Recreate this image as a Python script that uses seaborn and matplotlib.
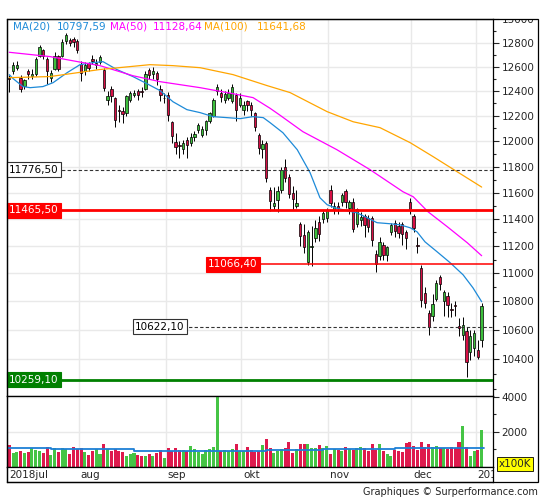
import numpy as np
import pandas as pd
import matplotlib
matplotlib.use('Agg')
import matplotlib.pyplot as plt
import matplotlib.transforms as mtransforms
from matplotlib.patches import Rectangle
from matplotlib.ticker import FixedLocator, FixedFormatter, NullFormatter
import seaborn as sns

sns.set_style('white')
plt.rcParams['font.family'] = ['DejaVu Sans']
plt.rcParams['font.size'] = 7.5

# ---- daily candles, 6 jul 2018 .. 4 jan 2019 (one entry per trading day) ----
opens = [12510, 12560, 12590, 12510, 12440, 12560, 12520, 12540, 12690, 12740,
         12660, 12510, 12580, 12690, 12690, 12810, 12820, 12830, 12810, 12620,
         12560, 12630, 12660, 12610, 12640, 12570, 12330, 12420, 12340, 12250,
         12240, 12220, 12330, 12370, 12400, 12400, 12420, 12570, 12540, 12550,
         12420, 12340, 12370, 12150, 11990, 11965, 11940, 12010, 11985, 12030,
         12090, 12045, 12090, 12160, 12200, 12400, 12385, 12330, 12345, 12320,
         12365, 12290, 12250, 12320, 12290, 12220, 12050, 11940, 11980, 11620,
         11500, 11540, 11620, 11800, 11720, 11600, 11500, 11360, 11280, 11080,
         11190, 11260, 11380, 11400, 11410, 11620, 11470, 11500, 11525, 11610,
         11480, 11530, 11360, 11390, 11420, 11410, 11410, 11140, 11130, 11205,
         11135, 11300, 11370, 11350, 11360, 11300, 11525, 11420, 11210, 11040,
         10860, 10720, 10700, 10820, 10975, 10800, 10840, 10745, 10775, 10630,
         10565, 10590, 10450, 10475, 10460, 10527]
highs = [12530, 12640, 12650, 12530, 12500, 12580, 12580, 12680, 12780, 12750,
         12680, 12570, 12720, 12700, 12830, 12880, 12840, 12850, 12830, 12650,
         12640, 12640, 12700, 12660, 12700, 12590, 12400, 12440, 12350, 12290,
         12270, 12370, 12400, 12410, 12420, 12430, 12560, 12590, 12600, 12560,
         12450, 12380, 12390, 12160, 12060, 12000, 12010, 12030, 12060, 12080,
         12140, 12120, 12170, 12230, 12340, 12460, 12420, 12400, 12420, 12460,
         12380, 12380, 12320, 12330, 12310, 12230, 12060, 12010, 12000, 11640,
         11640, 11650, 11800, 11860, 11740, 11650, 11620, 11380, 11360, 11320,
         11350, 11390, 11420, 11460, 11480, 11660, 11530, 11530, 11600, 11630,
         11540, 11560, 11480, 11450, 11440, 11430, 11420, 11170, 11270, 11230,
         11200, 11370, 11390, 11380, 11380, 11320, 11560, 11440, 11270, 11060,
         10900, 10740, 10850, 10950, 10990, 10880, 10870, 10790, 10800, 10680,
         10690, 10620, 10600, 10600, 10530, 10790]
lows = [12390, 12540, 12570, 12390, 12420, 12500, 12500, 12520, 12680, 12660,
        12460, 12470, 12570, 12560, 12680, 12790, 12770, 12760, 12710, 12480,
        12530, 12560, 12620, 12580, 12620, 12400, 12290, 12310, 12110, 12150,
        12140, 12200, 12310, 12350, 12330, 12350, 12410, 12500, 12500, 12450,
        12320, 12300, 12160, 11980, 11900, 11870, 11900, 11865, 11960, 12000,
        12060, 12030, 12050, 12140, 12190, 12370, 12310, 12300, 12330, 12300,
        12160, 12270, 12210, 12240, 12200, 12080, 11900, 11870, 11680, 11460,
        11470, 11450, 11600, 11680, 11560, 11470, 11480, 11200, 11150, 11060,
        11051, 11230, 11240, 11370, 11380, 11490, 11440, 11440, 11500, 11480,
        11440, 11300, 11340, 11350, 11270, 11300, 11200, 11010, 11100, 11100,
        11090, 11280, 11270, 11260, 11210, 11180, 11440, 11300, 11150, 10760,
        10755, 10565, 10660, 10800, 10880, 10700, 10690, 10690, 10700, 10560,
        10530, 10279, 10390, 10420, 10400, 10480]
closes = [12497, 12610, 12610, 12417, 12492, 12541, 12539, 12662, 12766, 12686,
          12561, 12548, 12689, 12579, 12809, 12860, 12798, 12805, 12737, 12546,
          12616, 12588, 12648, 12634, 12676, 12424, 12358, 12358, 12163, 12237,
          12211, 12358, 12384, 12385, 12365, 12394, 12538, 12528, 12562, 12494,
          12364, 12346, 12210, 12040, 11955, 11960, 11987, 11970, 12032, 12056,
          12124, 12096, 12158, 12219, 12327, 12431, 12350, 12374, 12385, 12435,
          12247, 12346, 12287, 12287, 12244, 12111, 11947, 11977, 11712, 11539,
          11524, 11614, 11777, 11715, 11589, 11553, 11524, 11274, 11191, 11307,
          11201, 11335, 11287, 11447, 11468, 11519, 11495, 11484, 11579, 11527,
          11529, 11325, 11472, 11412, 11353, 11341, 11244, 11066, 11230, 11136,
          11192, 11354, 11310, 11299, 11290, 11257, 11465, 11335, 11200, 10811,
          10788, 10622, 10780, 10931, 10924, 10865, 10772, 10740, 10766, 10611,
          10634, 10382, 10559, 10580, 10416, 10768]
# volume in units of 100K
volume = [1270, 810, 865, 920, 810, 865, 1075, 980, 920, 810,
          1150, 690, 1095, 865, 1095, 1020, 750, 1150, 1040, 1095,
          865, 690, 920, 1055, 750, 1325, 1055, 920, 1030, 920,
          880, 640, 750, 800, 690, 640, 600, 750, 640, 800,
          950, 540, 1065, 920, 1065, 950, 970, 920, 1200, 1010,
          880, 750, 970, 1030, 1140, 3990, 920, 950, 920, 1030,
          1310, 920, 920, 1140, 970, 880, 920, 1250, 1590, 1085,
          800, 920, 1030, 1085, 1420, 800, 1030, 1310, 1310, 1310,
          1085, 1085, 1250, 1085, 1200, 750, 1030, 970, 920, 1140,
          1000, 970, 1085, 1140, 1085, 920, 1310, 970, 1310, 920,
          750, 640, 970, 920, 860, 1365, 1420, 1200, 970, 1420,
          1140, 1310, 1140, 1200, 1085, 1085, 1030, 1140, 1085, 1420,
          2320, 1140, 640, 920, 970, 2100]

# volume average (stepped)
volma_idx = [-0.5, 11, 33, 41, 68, 83, 102, 104, 117, 125.5]
volma_val = [1070, 1020, 935, 915, 970, 1010, 1065, 1100, 1065, 1065]

# moving averages at bar positions
ma20_idx = [0, 1, 3.6, 5.5, 8.9, 11.6, 15.3, 18.7, 22.2, 24.8, 28.5, 32.7, 36.4,
            39.9, 43.3, 47, 50.5, 53.9, 57.6, 61.1, 64.5, 67.2, 69, 72.4, 76.2,
            79.6, 82.2, 84.1, 86.2, 89.4, 92, 94.7, 97.3, 100.8, 103.4, 106.1,
            107.9, 110, 113.2, 116.7, 120.1, 122.7, 125]
ma20_val = [12534, 12501, 12436, 12427, 12436, 12468, 12550, 12616, 12633, 12641,
            12575, 12518, 12460, 12403, 12313, 12249, 12225, 12193, 12185, 12177,
            12193, 12185, 12145, 12065, 11931, 11752, 11561, 11508, 11485, 11462,
            11447, 11410, 11373, 11365, 11357, 11335, 11305, 11231, 11158, 11077,
            10990, 10897, 10798]
ma50_idx = [0, 10.8, 19.5, 24, 32.7, 39.9, 50.5, 59.2, 64.5, 69, 71.6, 77.7,
            86.7, 95.5, 104.2, 106.9, 110.8, 115.9, 121.2, 125]
ma50_val = [12719, 12683, 12633, 12608, 12525, 12476, 12427, 12378, 12346, 12260,
            12205, 12073, 11931, 11775, 11606, 11568, 11455, 11343, 11224, 11129]
ma100_idx = [0, 10.8, 24, 37.2, 43.3, 50.5, 59.2, 68.2, 74.3, 84.1, 91, 98.1,
             106.1, 112.2, 118.5, 125]
ma100_val = [12509, 12518, 12576, 12616, 12608, 12591, 12534, 12444, 12387, 12233,
             12152, 12105, 11986, 11876, 11760, 11642]
ma_names = ['MA(20)', 'MA(50)', 'MA(100)']
ma_last = ['10797,59', '11128,64', '11641,68']

# horizontal levels
levels = [11776.50, 11465.50, 11066.40, 10622.10, 10259.10]
level_text = ['11776,50', '11465,50', '11066,40', '10622,10', '10259,10']

month_pos = [18, 41, 61, 84, 106, 123]
month_labels = ['aug', 'sep', 'okt', 'nov', 'dec', '2019']
first_label = '2018jul'

price_ticks = [10400, 10600, 10800, 11000, 11200, 11400, 11600, 11800,
               12000, 12200, 12400, 12600, 12800, 13000]
price_minor = [10200, 10300, 10500, 10700, 10900, 11100, 11300, 11500, 11700,
               11900, 12100, 12300, 12500, 12700, 12900]
vol_ticks = [2000, 4000]
vol_minor = [1000, 3000]

# ---- styles ----
GREEN = '#3cbf3c'
RED = '#d60f45'
VGREEN = '#45c445'
VRED = '#de1a4d'
MA_COLORS = ['#1d8ad8', '#ff00ff', '#ffa500']
GRID = '#e9e9e9'
W, H = 545, 500

def fx(px):
    return px / W

def fy(py):
    return 1 - py / H

fig = plt.figure(figsize=(W / 100, H / 100), dpi=100)
ax = fig.add_axes([fx(7), fy(396), fx(486), 377 / H])
axv = fig.add_axes([fx(7), fy(467), fx(486), 71 / H])
axd = fig.add_axes([fx(7), fy(482), fx(486), 15 / H])

n = len(closes)
idx = np.arange(n)
o = np.array(opens, float)
c = np.array(closes, float)
hi = np.array(highs, float)
lo = np.array(lows, float)
up = c >= o
xlim = (-0.61, 128.0)
grid_x = [p + 0.4 for p in month_pos]

# ---- price panel ----
ax.set_yscale('log')
ax.vlines(idx, lo, hi, color='black', lw=0.7, zorder=3)
ax.bar(idx, np.maximum(np.abs(c - o), 1), bottom=np.minimum(o, c), width=0.62,
       color=np.where(up, GREEN, RED), edgecolor='black', linewidth=0.5, zorder=4)

for xs, ys, col in zip([ma20_idx, ma50_idx, ma100_idx],
                       [ma20_val, ma50_val, ma100_val], MA_COLORS):
    sns.lineplot(x=xs, y=ys, ax=ax, color=col, lw=0.9, zorder=5)

blend = mtransforms.blended_transform_factory(ax.transAxes, ax.transData)
level_style = [
    dict(color='#333333', lw=0.8, ls=(0, (3, 2)), start=0.10, fc='white', ec='#333333', tc='black', tx=0.004),
    dict(color='#ff0000', lw=2.0, ls='-', start=0.10, fc='#ff0000', ec='#ff0000', tc='white', tx=0.004),
    dict(color='#ff0000', lw=1.1, ls='-', start=0.512, fc='#ff0000', ec='#ff0000', tc='white', tx=0.414),
    dict(color='#333333', lw=0.8, ls=(0, (3, 2)), start=0.362, fc='white', ec='#333333', tc='black', tx=0.263),
    dict(color='#008000', lw=2.0, ls='-', start=0.10, fc='#008000', ec='#008000', tc='white', tx=0.004),
]
for val, txt, st in zip(levels, level_text, level_style):
    ax.axhline(val, xmin=st['start'], xmax=1, color=st['color'], lw=st['lw'],
               ls=st['ls'], zorder=6)
    ax.text(st['tx'], val, txt, transform=blend, ha='left', va='center',
            color=st['tc'], fontsize=7.5, zorder=7,
            bbox=dict(boxstyle='square,pad=0.22', fc=st['fc'], ec=st['ec'], lw=0.8))

legend_x = [(0.012, 0.103), (0.212, 0.300), (0.405, 0.514)]
for (x1, x2), name, last, col in zip(legend_x, ma_names, ma_last, MA_COLORS):
    ax.text(x1, 0.979, name, transform=ax.transAxes, color=col, fontsize=7.5,
            va='center', ha='left', zorder=8)
    ax.text(x2, 0.979, last, transform=ax.transAxes, color=col, fontsize=7.5,
            va='center', ha='left', zorder=8)

ax.set_ylim(10150, 13000)
ax.set_xlim(*xlim)
ax.yaxis.tick_right()
ax.yaxis.set_major_locator(FixedLocator(price_ticks))
ax.yaxis.set_major_formatter(FixedFormatter([str(t) for t in price_ticks]))
ax.yaxis.set_minor_locator(FixedLocator(price_minor))
ax.yaxis.set_minor_formatter(NullFormatter())
ax.tick_params(axis='y', which='major', length=4, width=0.8, pad=2,
               labelsize=7.5, direction='out', right=True, left=False)
ax.tick_params(axis='y', which='minor', length=2, width=0.8, direction='out',
               right=True, left=False)
ax.set_xticks(grid_x)
ax.tick_params(axis='x', length=0, labelbottom=False)
ax.grid(True, which='major', color=GRID, lw=1, zorder=0)
ax.set_axisbelow(True)
ax.set_xlabel('')
ax.set_ylabel('')

# ---- volume panel ----
vol_df = pd.DataFrame({'i': idx, 'vol': volume,
                       'dir': np.where(up, 'up', 'down')})
sns.barplot(data=vol_df, x='i', y='vol', hue='dir',
            palette={'up': VGREEN, 'down': VRED}, native_scale=True,
            dodge=False, width=0.8, saturation=1, errorbar=None,
            legend=False, linewidth=0, ax=axv)
axv.step(volma_idx, volma_val, where='post', color='#1d7fd6', lw=1.3, zorder=5)
axv.set_xlim(*xlim)
axv.set_ylim(0, 4050)
axv.yaxis.tick_right()
axv.yaxis.set_major_locator(FixedLocator(vol_ticks))
axv.yaxis.set_major_formatter(FixedFormatter([str(t) for t in vol_ticks]))
axv.yaxis.set_minor_locator(FixedLocator(vol_minor))
axv.yaxis.set_minor_formatter(NullFormatter())
axv.tick_params(axis='y', which='major', length=4, width=0.8, pad=2,
                labelsize=7.5, direction='out', right=True, left=False)
axv.tick_params(axis='y', which='minor', length=2, width=0.8, direction='out',
                right=True, left=False)
axv.set_xticks(grid_x)
axv.tick_params(axis='x', length=0, labelbottom=False)
axv.grid(True, which='major', color=GRID, lw=1)
axv.set_axisbelow(True)
axv.set_xlabel('')
axv.set_ylabel('')

# ---- date band ----
axd.set_xlim(*xlim)
axd.set_ylim(0, 1)
axd.set_xticks([])
axd.set_yticks([])
axd.text(xlim[0] + 0.5, 0.45, first_label, ha='left', va='center',
         fontsize=7.5, clip_on=True)
for p, lab in zip(month_pos, month_labels):
    axd.text(p + 0.9, 0.45, lab, ha='left', va='center', fontsize=7.5,
             clip_on=True)

for a in (ax, axv, axd):
    for sp in a.spines.values():
        sp.set_color('black')
        sp.set_linewidth(0.9)

# cut the top price label at the frame like the original
clipbox = mtransforms.TransformedBbox(mtransforms.Bbox([[0, -1], [1.3, 1.0]]),
                                      ax.transAxes)
for lab in ax.yaxis.get_ticklabels():
    lab.set_clip_on(True)
    lab.set_clip_box(clipbox)

# outer frame, unit tag and credit line
fig.add_artist(Rectangle((fx(7), fy(482)), fx(531), 463 / H,
                         transform=fig.transFigure, fill=False,
                         ec='black', lw=0.9))
fig.text(fx(499), fy(464), 'x100K', ha='left', va='center', fontsize=7.5,
         bbox=dict(boxstyle='square,pad=0.15', fc='#ffff00', ec='black', lw=0.6))
fig.text(fx(538), fy(492), 'Graphiques \u00a9 Surperformance.com', ha='right',
         va='center', fontsize=7, color='#222222')

fig.savefig('out.png', dpi=100)
